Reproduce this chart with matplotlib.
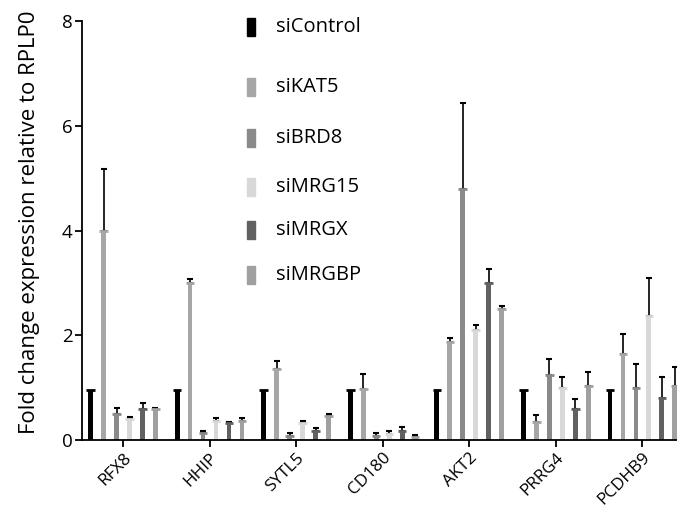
import numpy as np
import matplotlib
matplotlib.use("Agg")
import matplotlib.pyplot as plt
from matplotlib.patches import Rectangle

plt.rcParams['font.family'] = ['Open Sans', 'DejaVu Sans']

genes = ["RFX8", "HHIP", "SYTL5", "CD180", "AKT2", "PRRG4", "PCDHB9"]
series = ["siControl", "siKAT5", "siBRD8", "siMRG15", "siMRGX", "siMRGBP"]
colors = ["#000000", "#a6a6a9", "#8a8a8a", "#d8d8d8", "#616161", "#a0a0a0"]

# bar heights, one list per siRNA (values per gene)
means = [
    [0.95, 0.95, 0.95, 0.95, 0.95, 0.95, 0.95],
    [4.00, 3.00, 1.35, 0.97, 1.88, 0.34, 1.65],
    [0.50, 0.13, 0.08, 0.08, 4.80, 1.25, 1.00],
    [0.40, 0.36, 0.32, 0.12, 2.10, 1.00, 2.37],
    [0.60, 0.32, 0.18, 0.18, 3.00, 0.60, 0.81],
    [0.59, 0.37, 0.46, 0.05, 2.50, 1.03, 1.03],
]
# top of the upper error bar
err_top = [
    [0.95, 0.95, 0.95, 0.95, 0.95, 0.95, 0.95],
    [5.18, 3.07, 1.50, 1.26, 1.95, 0.48, 2.03],
    [0.62, 0.18, 0.14, 0.14, 6.43, 1.55, 1.46],
    [0.43, 0.42, 0.36, 0.17, 2.20, 1.21, 3.10],
    [0.71, 0.35, 0.22, 0.25, 3.26, 0.79, 1.20],
    [0.61, 0.42, 0.50, 0.10, 2.56, 1.30, 1.40],
]

fig = plt.figure(figsize=(6.77, 5.05), dpi=100)
ax = fig.add_axes([82/677, 65/505, 595/677, 419/505])

x = np.arange(len(genes))
pitch = 0.15
width = 0.055
for i, (name, c) in enumerate(zip(series, colors)):
    xs = x + (i - 2.5) * pitch
    m = np.array(means[i])
    e = np.array(err_top[i]) - m
    ax.bar(xs, m, width=width, color=c, zorder=2)
    ax.hlines(m, xs - width * 0.9, xs + width * 0.9, color=c, lw=2, zorder=3)
    if i > 0:
        ax.errorbar(xs, m, yerr=[np.zeros_like(e), e], fmt='none', ecolor='black',
                    elinewidth=1.2, capsize=2, capthick=1.5, zorder=1)

ax.set_xlim(-0.474, 6.40)
ax.set_ylim(0, 8)
ax.set_yticks([0, 2, 4, 6, 8])
ax.set_xticks(x)
ax.set_xticklabels(genes, rotation=45, ha='right', rotation_mode='anchor', fontsize=12.3)
ax.tick_params(axis='y', labelsize=13.5, width=1.3, length=5, pad=2)
ax.tick_params(axis='x', width=1.3, length=5, pad=2)
for s in ['top', 'right']:
    ax.spines[s].set_visible(False)
for s in ['left', 'bottom']:
    ax.spines[s].set_linewidth(1.3)
ax.set_ylabel("Fold change expression relative to RPLP0", fontsize=16)
ax.yaxis.set_label_coords(-42/595, 0.52)

# hand-placed legend (uneven spacing as in the original)
leg_y = [27, 87, 138, 187, 230, 275]
for name, c, yy in zip(series, colors, leg_y):
    fy = 1 - yy / 505
    fig.patches.append(Rectangle((247/677, fy - 9/505), 8/677, 18/505,
                                 transform=fig.transFigure, color=c))
    fig.text(276/677, fy, name, fontsize=14.5, va='center', ha='left')

fig.savefig("out.png", dpi=100)
